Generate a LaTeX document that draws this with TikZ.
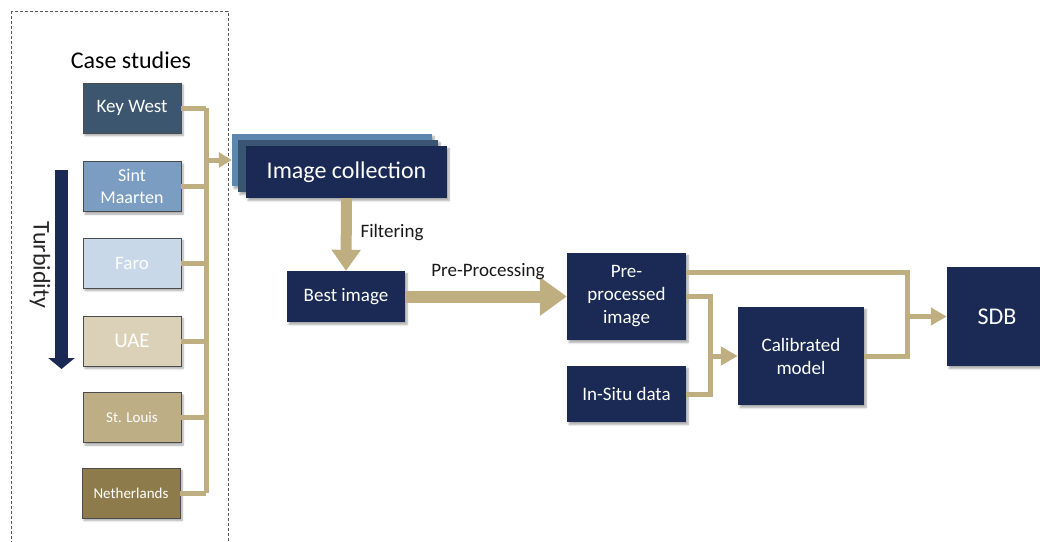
\documentclass[tikz,border=0pt]{standalone}
\usepackage{fontspec}
\setmainfont{Carlito}
\usetikzlibrary{arrows.meta,shadows.blur,calc}

\definecolor{navy}{HTML}{1B2A55}
\definecolor{tan}{HTML}{BFAE80}
\definecolor{cKW}{HTML}{3C566F}
\definecolor{cSM}{HTML}{7B9DC2}
\definecolor{cFA}{HTML}{C8D8E8}
\definecolor{cUA}{HTML}{DBD1B8}
\definecolor{cSL}{HTML}{BDAE85}
\definecolor{cNL}{HTML}{8E7B4C}
\definecolor{stackA}{HTML}{5B86AE}
\definecolor{stackB}{HTML}{3A5572}

\tikzset{
  shade/.style={blur shadow={shadow xshift=2pt,shadow yshift=-2.5pt,shadow blur steps=6,shadow opacity=35}},
  casebox/.style={shade,draw=black!70,line width=0.7pt,minimum width=98pt,minimum height=50pt,
    text=white,align=center,inner sep=0pt,font=\fontsize{19}{22}\selectfont},
  procbox/.style={shade,fill=navy,text=white,align=center,inner sep=0pt,
    font=\fontsize{19}{23}\selectfont},
  stackbox/.style={shade,minimum width=200pt,minimum height=52pt,inner sep=0pt},
  link/.style={draw=tan,line width=5pt},
  linkarrow/.style={link,-{Triangle[width=17pt,length=16pt]}},
  bigarrow/.style={draw=tan,line width=11pt},
  lbl/.style={font=\fontsize{19}{22}\selectfont,text=black!90}
}

\begin{document}
\begin{tikzpicture}[x=1pt,y=-1pt]
\useasboundingbox (0,0) rectangle (1040,541);

% case study frame
\draw[black!65,line width=0.8pt,dash pattern=on 3pt off 2pt] (11,11) rectangle (228,570);
\node[font=\fontsize{24}{28}\selectfont] (title) at (131,60) {Case studies};

% turbidity scale
\coordinate (turbtop) at (61.5,170);
\coordinate (turbend) at (61.5,369);
\draw[navy,line width=13pt,-{Triangle[width=26pt,length=11pt]}] (turbtop) -- (turbend);
\node[rotate=-90,font=\fontsize{24}{28}\selectfont,text=black!85] (turb) at (40,265) {Turbidity};

% case study sites
\node[casebox,fill=cKW] (kw) at (132,108) {Key West};
\node[casebox,fill=cSM,font=\fontsize{18}{22}\selectfont] (sm) at (132,186.5) {Sint\\Maarten};
\node[casebox,fill=cFA,text=white!96!cFA] (fa) at (132,263) {Faro};
\node[casebox,fill=cUA,text=white!96!cUA,font=\fontsize{21}{24}\selectfont] (ua) at (132,341) {UAE};
\node[casebox,fill=cSL,font=\fontsize{15}{18}\selectfont] (sl) at (132,417.5) {St. Louis};
\node[casebox,fill=cNL,font=\fontsize{15}{18}\selectfont] (nl) at (131,493) {Netherlands};

% image collection stack
\node[stackbox,fill=stackA] (icA) at (332,160) {};
\node[stackbox,fill=stackB] (icB) at (338,166) {};
\node[stackbox,fill=navy,minimum width=201pt,text=white,font=\fontsize{24}{28}\selectfont] (ic) at (346.5,172) {Image collection};

% collector bus
\coordinate (bus) at (206,0);
\foreach \n in {kw,sm,fa,ua,sl,nl}{
  \draw[link] (\n.east) -- (\n.east -| bus);
}
\draw[link] (kw.east -| bus) -- (nl.east -| bus);
\draw[link,-{Triangle[width=15pt,length=13pt]}] (icA.west -| bus) -- (icA.west);

% processing chain
\node[procbox,minimum width=118pt,minimum height=51pt] (best) at (346,296.5) {Best image};
\node[procbox,minimum width=119pt,minimum height=87pt] (pre) at (626.5,296.5) {Pre-\\processed\\image};
\node[procbox,minimum width=119pt,minimum height=56pt] (insitu) at (626.5,394) {In-Situ data};
\node[procbox,minimum width=126pt,minimum height=98pt] (cal) at (801,356) {Calibrated\\model};
\node[procbox,minimum width=100pt,minimum height=99pt,font=\fontsize{24}{28}\selectfont] (sdb) at (997,316.5) {SDB};

\draw[bigarrow,-{Triangle[width=28pt,length=21pt]}] (ic.south) -- (best.north);
\node[lbl,anchor=west] (filt) at (357,233) {Filtering};
\draw[bigarrow,line width=12pt,-{Triangle[width=37pt,length=27pt]}] (best.east) -- (pre.west);
\node[lbl] (preproc) at (488,272) {Pre-Processing};

% calibration and merge
\coordinate (j1) at (710,356);
\coordinate (j2) at (907,316.5);
\draw[link] (pre.east) -| (j1);
\draw[link] (insitu.east) -| (j1);
\draw[linkarrow,-{Triangle[width=18pt,length=17pt]}] (j1) -- (cal.west);
\draw[link] ([yshift=24.5pt]pre.east) -| (j2);
\draw[link] (cal.east) -| (j2);
\draw[linkarrow] (j2) -- (sdb.west);
\end{tikzpicture}
\end{document}
